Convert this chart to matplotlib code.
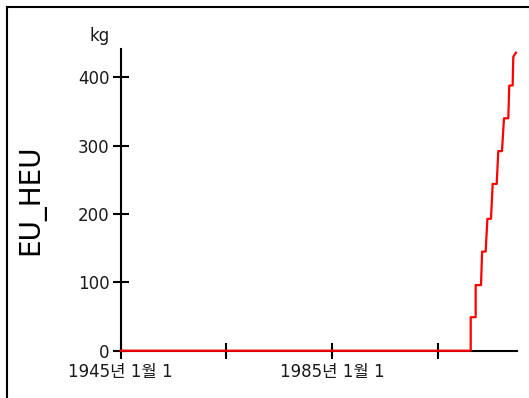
import matplotlib
matplotlib.use("Agg")
import matplotlib.pyplot as plt
from matplotlib.patches import Rectangle

plt.rcParams['font.family'] = ['DejaVu Sans', 'Noto Sans CJK KR']

# Data (decimal years, kg)
years = [1945.0, 2011.24, 2011.24, 2012.18, 2012.18, 2013.19, 2013.4, 2014.07,
         2014.4, 2015.08, 2015.4, 2016.16, 2016.46, 2017.16, 2017.54, 2018.35,
         2018.54, 2019.18, 2019.3, 2019.8]
eu_heu = [0, 0, 49, 49, 96, 96, 145, 145,
          193, 193, 244, 244, 292, 292, 340, 340,
          388, 388, 430, 436]

tick_years = [1945, 1965, 1985, 2005]
tick_labels = ['1945년 1월 1', '', '1985년 1월 1', '']
y_ticks = [0, 100, 200, 300, 400]

fig = plt.figure(figsize=(5.29, 3.98), dpi=100)
ax = fig.add_axes([0.2282, 0.1188, 0.7485, 0.7581])

ax.plot(years, eu_heu, color='#ff0000', linewidth=1.6, zorder=3, clip_on=False)

ax.set_xlim(1945, 2019.94)
ax.set_ylim(0, 441.4)
ax.set_xticks(tick_years)
ax.set_xticklabels(tick_labels)
ax.set_yticks(y_ticks)

for side in ['top', 'right']:
    ax.spines[side].set_visible(False)
for side in ['left', 'bottom']:
    ax.spines[side].set_linewidth(1.5)
    ax.spines[side].set_color('black')

ax.tick_params(axis='both', direction='inout', length=12, width=1.5,
               labelsize=12, colors='black', labelcolor='#1a1a1a')
ax.tick_params(axis='x', pad=3)
ax.tick_params(axis='y', pad=2)

ax.set_ylabel('EU_HEU', fontsize=20)
ax.yaxis.set_label_coords(-0.19, 0.5)
fig.text(100 / 529, 1 - 36 / 398, 'kg', fontsize=12, ha='center', va='center',
         color='#1a1a1a')

# outer frame
fig.patches.append(Rectangle((7 / 529, -0.1), 1.2, 1.1 - 7 / 398,
                             transform=fig.transFigure, fill=False,
                             edgecolor='black', linewidth=1.5))

fig.savefig('out.png', dpi=100)
